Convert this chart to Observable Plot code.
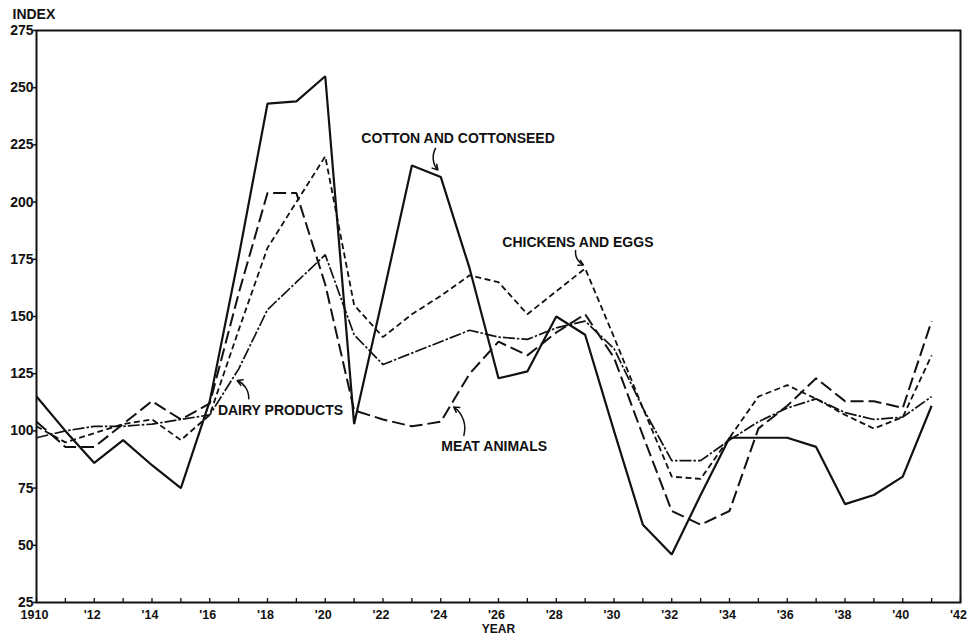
<!DOCTYPE html>
<html><head><meta charset="utf-8">
<script src="https://cdn.jsdelivr.net/npm/d3@7"></script>
<script src="https://cdn.jsdelivr.net/npm/@observablehq/plot@0.6"></script>
<style>
body{margin:0;background:#fff;}
#chart svg{display:block;}
</style></head><body><div id="chart"></div>
<script>
const years = [1910,1911,1912,1913,1914,1915,1916,1917,1918,1919,1920,1921,1922,1923,1924,1925,1926,1927,1928,1929,1930,1931,1932,1933,1934,1935,1936,1937,1938,1939,1940,1941];
const cotton   = [115,100,86,96,85,75,113,176,243,244,255,103,159,216,211,171,123,126,150,142,100,59,46,72,97,97,97,93,68,72,80,111];
const chickens = [102,95,99,103,105,96,107,144,180,200,220,155,141,151,159,168,165,151,161,171,141,110,80,79,97,115,120,114,107,101,106,133];
const dairy    = [97,100,102,102,103,105,107,127,153,165,177,142,129,134,139,144,141,140,145,148,136,110,87,87,96,104,110,114,108,105,106,115];
const meat     = [104,93,93,103,113,105,112,160,204,204,164,109,105,102,104,125,139,133,143,151,132,98,65,59,65,101,111,123,113,113,110,148];

const xMinorTicks = [1910,1911,1912,1913,1914,1915,1916,1917,1918,1919,1920,1921,1922,1923,1924,1925,1926,1927,1928,1929,1930,1931,1932,1933,1934,1935,1936,1937,1938,1939,1940,1941,1942];
const xTicks = [1910,1912,1914,1916,1918,1920,1922,1924,1926,1928,1930,1932,1934,1936,1938,1940,1942];
const xTickLabels = ["1910","'12","'14","'16","'18","'20","'22","'24","'26","'28","'30","'32","'34","'36","'38","'40","'42"];
const yTicks = [25,50,75,100,125,150,175,200,225,250,275];

const labelTexts = ["COTTON AND COTTONSEED","CHICKENS AND EGGS","DAIRY PRODUCTS","MEAT ANIMALS"];
const labelYears = [1924.6,1928.75,1918.45,1925.85];
const labelValues = [228,182.3,109,93.3];

const arrowFromYears = [1923.82,1928.67,1917.35,1924.8];
const arrowFromValues = [223.5,178.8,114,98];
const arrowToYears = [1923.9,1928.94,1916.95,1924.45];
const arrowToValues = [214,172.5,122,110.5];

const series = [
  {values: cotton, dash: null, width: 2.2},
  {values: chickens, dash: "6,3.5", width: 1.8},
  {values: dairy, dash: "12,2,2.5,2", width: 1.7},
  {values: meat, dash: "13,5", width: 2}
];

const labels = labelTexts.map((t,i) => ({text: t, x: labelYears[i], y: labelValues[i]}));
const arrows = arrowFromYears.map((x1,i) => ({x1, y1: arrowFromValues[i], x2: arrowToYears[i], y2: arrowToValues[i]}));

const lineMarks = series.map(s => Plot.line(years.map((yr,i) => ({year: yr, value: s.values[i]})), {
  x: "year", y: "value", stroke: "#111", strokeWidth: s.width,
  strokeDasharray: s.dash, strokeLinejoin: "miter", strokeLinecap: "butt"
}));

const chart = Plot.plot({
  width: 967, height: 635,
  marginLeft: 36, marginRight: 7, marginTop: 30, marginBottom: 33,
  x: {domain: [1910, 1942]},
  y: {domain: [25, 275]},
  style: {fontFamily: "'Liberation Sans', Arial, sans-serif", fontSize: "14px", fontWeight: "bold", background: "#fff", color: "#111"},
  marks: [
    Plot.axisY({ticks: yTicks, tickSize: 3, tickPadding: 0, label: null, fontSize: 14, strokeWidth: 1.5}),
    Plot.axisX({ticks: xMinorTicks, tickSize: -4, tickFormat: () => "", label: null, strokeWidth: 1.3}),
    Plot.axisX({ticks: xTicks, tickSize: 0, tickPadding: 8, dx: -2, tickFormat: d => xTickLabels[xTicks.indexOf(d)], label: null, fontSize: 12.5}),
    ...lineMarks,
    Plot.frame({stroke: "#111", strokeWidth: 2}),
    Plot.text(labels, {x: "x", y: "y", text: "text", fontSize: 14, fontWeight: "bold", textAnchor: "middle", lineAnchor: "middle", fill: "#111"}),
    Plot.arrow(arrows, {x1: "x1", y1: "y1", x2: "x2", y2: "y2", bend: -35, headLength: 6, stroke: "#111", strokeWidth: 1.5}),
    Plot.text(["INDEX"], {frameAnchor: "top-left", dx: -24, dy: -16, textAnchor: "start", lineAnchor: "middle", fontSize: 14, fontWeight: "bold", fill: "#111"}),
    Plot.text(["YEAR"], {frameAnchor: "bottom", dy: 30, textAnchor: "middle", lineAnchor: "bottom", fontSize: 12, fontWeight: "bold", fill: "#111"})
  ]
});
document.getElementById("chart").appendChild(chart);
</script>
</body></html>
